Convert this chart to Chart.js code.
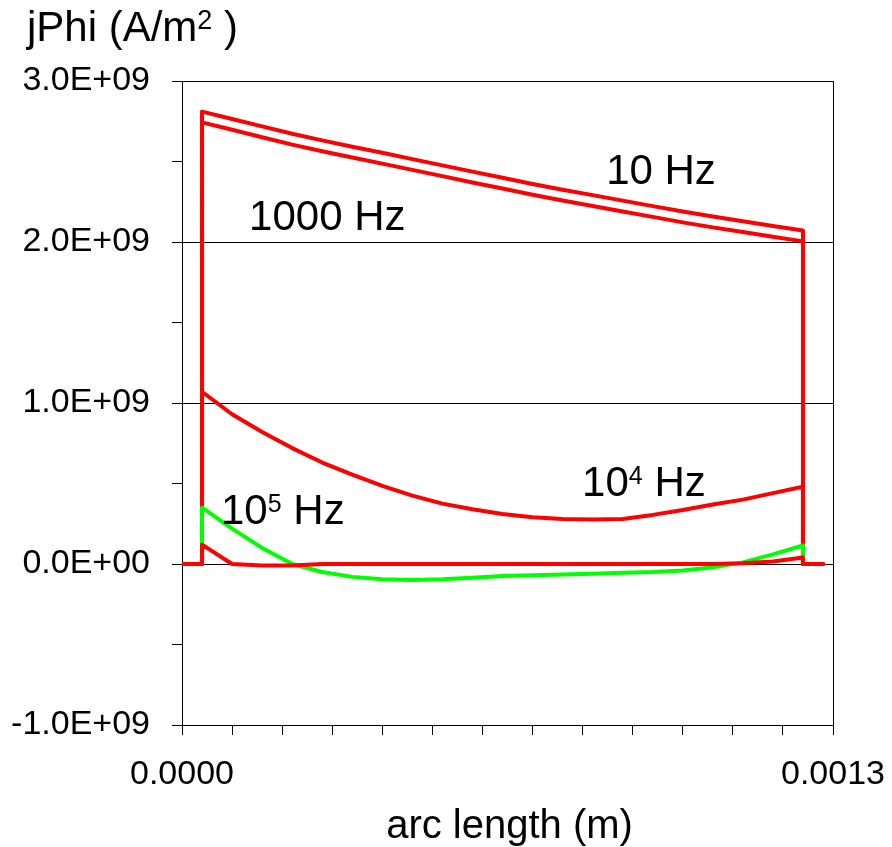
<!DOCTYPE html>
<html>
<head>
<meta charset="utf-8">
<script src="https://cdn.jsdelivr.net/npm/chart.js@4.4.0/dist/chart.umd.min.js"></script>
<style>
  html, body { margin: 0; padding: 0; background: #fff; }
  canvas { display: block; }
</style>
</head>
<body>
<canvas id="chart" width="892" height="847"></canvas>
<script>
// arc length nodes along the conductor edge (m)
const arcX = [0.00004, 0.0001, 0.00016, 0.00022, 0.00028, 0.00034, 0.0004, 0.00046, 0.00052, 0.00058,
              0.00064, 0.0007, 0.00076, 0.00082, 0.00088, 0.00094, 0.001, 0.00106, 0.00112, 0.00118, 0.00124];
const arcEnd = 0.00128;

// jPhi (A/m2) at each node, per frequency
const jPhi10Hz = [2.810e9, 2.764e9, 2.718e9, 2.672e9, 2.631e9, 2.592e9, 2.554e9, 2.515e9, 2.476e9, 2.437e9,
                  2.399e9, 2.360e9, 2.325e9, 2.291e9, 2.257e9, 2.223e9, 2.189e9, 2.158e9, 2.129e9, 2.100e9, 2.071e9];
const jPhi1kHz = [2.743e9, 2.697e9, 2.651e9, 2.605e9, 2.564e9, 2.525e9, 2.487e9, 2.448e9, 2.409e9, 2.370e9,
                  2.332e9, 2.293e9, 2.258e9, 2.224e9, 2.190e9, 2.156e9, 2.122e9, 2.091e9, 2.062e9, 2.033e9, 2.004e9];
const jPhi10kHz = [1.07e9, 0.93e9, 0.82e9, 0.72e9, 0.63e9, 0.555e9, 0.485e9, 0.425e9, 0.375e9, 0.34e9,
                   0.31e9, 0.29e9, 0.28e9, 0.277e9, 0.28e9, 0.305e9, 0.335e9, 0.37e9, 0.40e9, 0.44e9, 0.48e9];
const jPhi100kHz = [0.35e9, 0.22e9, 0.10e9, 0.0, -0.05e9, -0.08e9, -0.095e9, -0.10e9, -0.095e9, -0.085e9,
                    -0.075e9, -0.07e9, -0.065e9, -0.06e9, -0.055e9, -0.05e9, -0.04e9, -0.02e9, 0.01e9, 0.06e9, 0.115e9];
const jPhiHighest = [0.12e9, 0.0, -0.01e9, -0.01e9, 0.0, 0.0, 0.0, 0.0, 0.0, 0.0,
                     0.0, 0.0, 0.0, 0.0, 0.0, 0.0, 0.0, 0.0, 0.005e9, 0.015e9, 0.04e9];

// curve labels ("^" marks a superscript digit) and their anchors in data units
const curveLabels = ['10 Hz', '1000 Hz', '10^4 Hz', '10^5 Hz'];
const labelX = [0.000847, 0.000134, 0.000799, 0.0000779];
const labelY = [2.36e9, 2.075e9, 0.42e9, 0.25e9];

const FONT = '"Liberation Sans", Arial, sans-serif';

// closed profile: zero up to the first node, the curve, then back to zero
function profile(values) {
  const pts = [{x: 0, y: 0}, {x: arcX[0], y: 0}];
  arcX.forEach((x, i) => pts.push({x: x, y: values[i]}));
  pts.push({x: arcX[arcX.length - 1], y: 0});
  pts.push({x: arcEnd, y: 0});
  return pts;
}

function lineSet(values, color) {
  return {
    data: profile(values),
    borderColor: color,
    backgroundColor: color,
    borderWidth: 4,
    pointRadius: 0,
    tension: 0,
    fill: false,
    borderJoinStyle: 'round',
    borderCapStyle: 'round'
  };
}

function fmtY(v) {
  if (v === 0) return '0.0E+00';
  return (v / 1e9).toFixed(1) + 'E+09';
}

// draws "base^sup rest" as one run of text
function drawRich(ctx, text, x, y, size, supScale) {
  const m = text.match(/^([^^]*)\^(\S)(.*)$/);
  ctx.font = size + 'px ' + FONT;
  if (!m) { ctx.fillText(text, x, y); return; }
  ctx.fillText(m[1], x, y);
  x += ctx.measureText(m[1]).width;
  ctx.font = Math.round(size * supScale) + 'px ' + FONT;
  ctx.fillText(m[2], x, y - size * 0.29);
  x += ctx.measureText(m[2]).width;
  ctx.font = size + 'px ' + FONT;
  ctx.fillText(m[3], x, y);
}

const textPlugin = {
  id: 'plotText',
  beforeDatasetsDraw(chart) {
    // right-hand frame line
    const {ctx, chartArea} = chart;
    ctx.save();
    ctx.strokeStyle = '#000';
    ctx.lineWidth = 1;
    ctx.beginPath();
    ctx.moveTo(Math.round(chartArea.right) + 0.5, chartArea.top);
    ctx.lineTo(Math.round(chartArea.right) + 0.5, chartArea.bottom);
    ctx.stroke();
    ctx.restore();
  },
  afterDraw(chart) {
    const {ctx, chartArea, scales} = chart;
    ctx.save();
    ctx.fillStyle = '#000';
    ctx.textBaseline = 'alphabetic';
    ctx.textAlign = 'left';
    curveLabels.forEach((t, i) => {
      drawRich(ctx, t, scales.x.getPixelForValue(labelX[i]), scales.y.getPixelForValue(labelY[i]), 42, 0.6);
    });
    drawRich(ctx, 'jPhi (A/m^2 )', 27, 41, 42, 0.65);
    ctx.font = '40px ' + FONT;
    ctx.textAlign = 'center';
    ctx.fillText('arc length (m)', (chartArea.left + chartArea.right) / 2 + 2, 838);
    ctx.restore();
  }
};

new Chart(document.getElementById('chart'), {
  type: 'line',
  data: {
    datasets: [
      lineSet(jPhiHighest, '#ff0000'),
      lineSet(jPhi100kHz, '#00ff00'),
      lineSet(jPhi10kHz, '#ff0000'),
      lineSet(jPhi1kHz, '#ff0000'),
      lineSet(jPhi10Hz, '#ff0000')
    ]
  },
  options: {
    responsive: false,
    animation: false,
    layout: {padding: {top: 81, right: 59, left: 0, bottom: 0}},
    plugins: {legend: {display: false}, tooltip: {enabled: false}},
    scales: {
      x: {
        type: 'linear',
        min: 0,
        max: 0.0013,
        ticks: {
          stepSize: 0.0001,
          autoSkip: false,
          maxRotation: 0,
          padding: 19,
          color: '#000',
          font: {family: FONT, size: 34},
          callback: (v, i, ticks) => i === 0 ? '0.0000' : (i === ticks.length - 1 ? '0.0013' : '')
        },
        grid: {drawOnChartArea: false, tickLength: 10, tickColor: '#000', color: '#000'},
        border: {color: '#000', width: 1},
        afterFit: s => { s.height = 122; s.paddingLeft = 0; s.paddingRight = 0; }
      },
      y: {
        type: 'linear',
        min: -1e9,
        max: 3e9,
        ticks: {
          stepSize: 0.5e9,
          autoSkip: false,
          padding: 22,
          color: '#000',
          font: {family: FONT, size: 34},
          callback: v => (v % 1e9 === 0 ? fmtY(v) : '')
        },
        grid: {
          color: c => (c.tick && c.tick.value % 1e9 === 0) ? '#000' : 'rgba(0,0,0,0)',
          tickColor: '#000',
          tickLength: 10,
          lineWidth: 1
        },
        border: {color: '#000', width: 1},
        afterFit: s => { s.width = 182; s.paddingTop = 0; s.paddingBottom = 0; }
      }
    }
  },
  plugins: [textPlugin]
});
</script>
</body>
</html>
